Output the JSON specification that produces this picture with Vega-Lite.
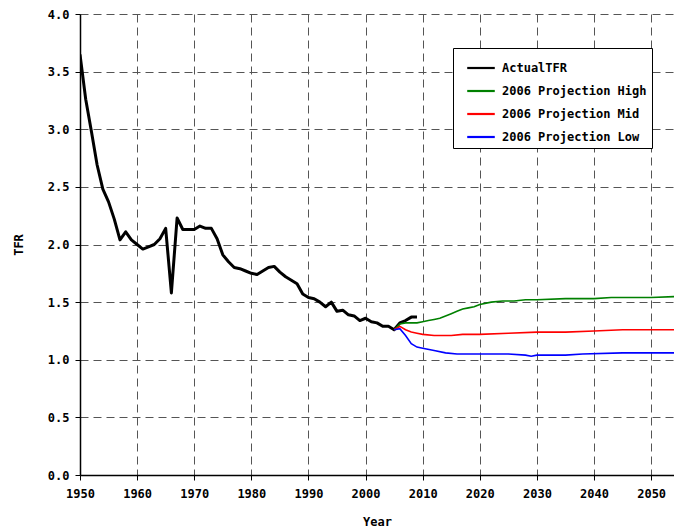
{
  "$schema": "https://vega.github.io/schema/vega-lite/v6.json",
  "width": 594,
  "height": 461,
  "autosize": {"type": "none"},
  "padding": {"left": 80, "top": 14, "right": 0, "bottom": 53},
  "background": "white",
  "config": {"view": {"stroke": null}, "font": "DejaVu Sans Mono"},
  "datasets": {
    "actual": [
      {"year":1950,"v":3.65},{"year":1951,"v":3.26},{"year":1952,"v":2.98},{"year":1953,"v":2.69},{"year":1954,"v":2.48},
      {"year":1955,"v":2.37},{"year":1956,"v":2.22},{"year":1957,"v":2.04},{"year":1958,"v":2.11},{"year":1959,"v":2.04},
      {"year":1960,"v":2.00},{"year":1961,"v":1.96},{"year":1962,"v":1.98},{"year":1963,"v":2.00},{"year":1964,"v":2.05},
      {"year":1965,"v":2.14},{"year":1966,"v":1.58},{"year":1967,"v":2.23},{"year":1968,"v":2.13},{"year":1969,"v":2.13},
      {"year":1970,"v":2.13},{"year":1971,"v":2.16},{"year":1972,"v":2.14},{"year":1973,"v":2.14},{"year":1974,"v":2.05},
      {"year":1975,"v":1.91},{"year":1976,"v":1.85},{"year":1977,"v":1.80},{"year":1978,"v":1.79},{"year":1979,"v":1.77},
      {"year":1980,"v":1.75},{"year":1981,"v":1.74},{"year":1982,"v":1.77},{"year":1983,"v":1.80},{"year":1984,"v":1.81},
      {"year":1985,"v":1.76},{"year":1986,"v":1.72},{"year":1987,"v":1.69},{"year":1988,"v":1.66},{"year":1989,"v":1.57},
      {"year":1990,"v":1.54},{"year":1991,"v":1.53},{"year":1992,"v":1.50},{"year":1993,"v":1.46},{"year":1994,"v":1.50},
      {"year":1995,"v":1.42},{"year":1996,"v":1.43},{"year":1997,"v":1.39},{"year":1998,"v":1.38},{"year":1999,"v":1.34},
      {"year":2000,"v":1.36},{"year":2001,"v":1.33},{"year":2002,"v":1.32},{"year":2003,"v":1.29},{"year":2004,"v":1.29},
      {"year":2005,"v":1.26},{"year":2006,"v":1.32},{"year":2007,"v":1.34},{"year":2008,"v":1.37},{"year":2009,"v":1.37}
    ],
    "high": [
      {"year":2005,"v":1.26},{"year":2006,"v":1.31},{"year":2007,"v":1.32},{"year":2008,"v":1.32},{"year":2009,"v":1.32},
      {"year":2010,"v":1.33},{"year":2011,"v":1.34},{"year":2012,"v":1.35},{"year":2013,"v":1.36},{"year":2014,"v":1.38},
      {"year":2015,"v":1.40},{"year":2016,"v":1.42},{"year":2017,"v":1.44},{"year":2018,"v":1.45},{"year":2019,"v":1.46},
      {"year":2020,"v":1.48},{"year":2022,"v":1.50},{"year":2024,"v":1.51},{"year":2026,"v":1.51},{"year":2028,"v":1.52},
      {"year":2030,"v":1.52},{"year":2035,"v":1.53},{"year":2040,"v":1.53},{"year":2043,"v":1.54},{"year":2050,"v":1.54},
      {"year":2055,"v":1.55}
    ],
    "mid": [
      {"year":2005,"v":1.26},{"year":2006,"v":1.29},{"year":2007,"v":1.26},{"year":2008,"v":1.24},{"year":2009,"v":1.23},
      {"year":2010,"v":1.22},{"year":2012,"v":1.21},{"year":2015,"v":1.21},{"year":2017,"v":1.22},{"year":2020,"v":1.22},
      {"year":2025,"v":1.23},{"year":2030,"v":1.24},{"year":2035,"v":1.24},{"year":2040,"v":1.25},{"year":2045,"v":1.26},
      {"year":2055,"v":1.26}
    ],
    "low": [
      {"year":2005,"v":1.26},{"year":2006,"v":1.27},{"year":2007,"v":1.21},{"year":2008,"v":1.14},{"year":2009,"v":1.11},
      {"year":2010,"v":1.10},{"year":2012,"v":1.08},{"year":2014,"v":1.06},{"year":2016,"v":1.05},{"year":2020,"v":1.05},
      {"year":2025,"v":1.05},{"year":2028,"v":1.04},{"year":2029,"v":1.03},{"year":2030,"v":1.04},{"year":2035,"v":1.04},
      {"year":2038,"v":1.05},{"year":2045,"v":1.06},{"year":2055,"v":1.06}
    ]
  },
  "layer": [
    {
      "data": {"name": "actual"},
      "transform": [{"calculate": "'ActualTFR'", "as": "series"}],
      "mark": {"type": "line", "clip": true, "strokeWidth": 3, "strokeJoin": "round"},
      "encoding": {
        "x": {"field": "year", "type": "quantitative"},
        "y": {"field": "v", "type": "quantitative"},
        "color": {"field": "series", "type": "nominal"}
      }
    },
    {
      "data": {"name": "high"},
      "transform": [{"calculate": "'2006 Projection High'", "as": "series"}],
      "mark": {"type": "line", "clip": true, "strokeWidth": 1.6},
      "encoding": {
        "x": {"field": "year", "type": "quantitative"},
        "y": {"field": "v", "type": "quantitative"},
        "color": {"field": "series", "type": "nominal"}
      }
    },
    {
      "data": {"name": "mid"},
      "transform": [{"calculate": "'2006 Projection Mid'", "as": "series"}],
      "mark": {"type": "line", "clip": true, "strokeWidth": 1.6},
      "encoding": {
        "x": {"field": "year", "type": "quantitative"},
        "y": {"field": "v", "type": "quantitative"},
        "color": {"field": "series", "type": "nominal"}
      }
    },
    {
      "data": {"name": "low"},
      "transform": [{"calculate": "'2006 Projection Low'", "as": "series"}],
      "mark": {"type": "line", "clip": true, "strokeWidth": 1.6},
      "encoding": {
        "x": {"field": "year", "type": "quantitative"},
        "y": {"field": "v", "type": "quantitative"},
        "color": {"field": "series", "type": "nominal"}
      }
    }
  ],
  "encoding": {
    "x": {
      "field": "year", "type": "quantitative",
      "scale": {"domain": [1950, 2054], "nice": false, "zero": false},
      "axis": {
        "values": [1950,1960,1970,1980,1990,2000,2010,2020,2030,2040,2050],
        "format": "d", "title": "Year", "labelFlush": false,
        "grid": true, "gridDash": [8, 5], "gridColor": "#555", "gridOpacity": 1, "gridWidth": 1,
        "domainColor": "black", "domainWidth": 1.5, "tickColor": "black", "tickSize": 5,
        "labelFont": "DejaVu Sans Mono", "labelFontWeight": "bold", "labelFontSize": 12, "labelColor": "black", "labelPadding": 8,
        "titleFont": "DejaVu Sans Mono", "titleFontWeight": "bold", "titleFontSize": 12, "titleColor": "black", "titlePadding": 17
      }
    },
    "y": {
      "field": "v", "type": "quantitative",
      "scale": {"domain": [0, 4], "nice": false},
      "axis": {
        "values": [0,0.5,1,1.5,2,2.5,3,3.5,4],
        "format": ".1f", "title": "TFR", "labelFlush": false,
        "grid": true, "gridDash": [8, 5], "gridColor": "#555", "gridOpacity": 1, "gridWidth": 1,
        "domainColor": "black", "domainWidth": 1.5, "tickColor": "black", "tickSize": 5,
        "labelFont": "DejaVu Sans Mono", "labelFontWeight": "bold", "labelFontSize": 12, "labelColor": "black", "labelPadding": 6,
        "titleFont": "DejaVu Sans Mono", "titleFontWeight": "bold", "titleFontSize": 12, "titleColor": "black", "titlePadding": 22
      }
    },
    "color": {
      "field": "series", "type": "nominal",
      "scale": {
        "domain": ["ActualTFR", "2006 Projection High", "2006 Projection Mid", "2006 Projection Low"],
        "range": ["black", "#008000", "#ff0000", "#0000ff"]
      },
      "legend": {
        "title": null, "orient": "none", "legendX": 373, "legendY": 34,
        "fillColor": "white", "strokeColor": "black",
        "padding": 5, "symbolOffset": 8, "symbolType": "stroke", "symbolSize": 760, "symbolStrokeWidth": 2.2,
        "rowPadding": 2, "labelOffset": 6,
        "labelFont": "DejaVu Sans Mono", "labelFontWeight": "bold", "labelFontSize": 12, "labelColor": "black",
        "labelLimit": 300
      }
    }
  }
}
